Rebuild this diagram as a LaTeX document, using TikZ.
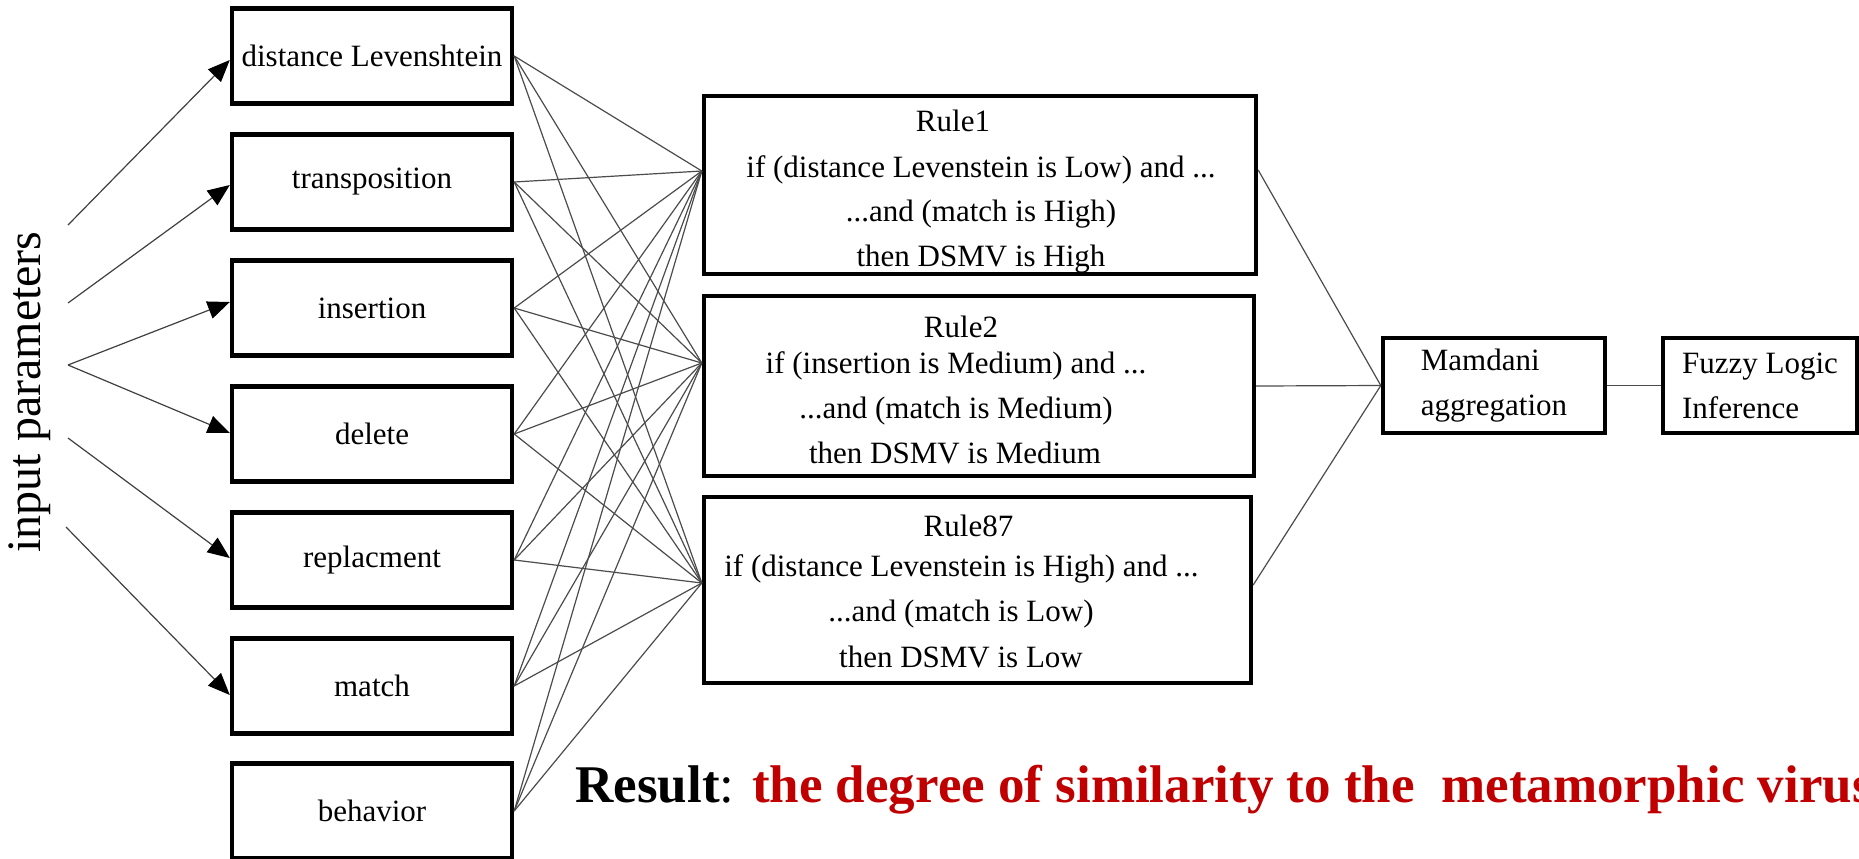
\documentclass[tikz,border=0pt]{standalone}
\usepackage{fontspec}
\setmainfont{Liberation Serif}
\usetikzlibrary{arrows.meta,calc}
\definecolor{resred}{RGB}{192,0,0}
\tikzset{
  inbox/.style={draw, line width=2.2pt, minimum width=140pt, minimum height=47.5pt, inner sep=0pt, font=\fontsize{15.5}{18}\selectfont},
  rulebox/.style={draw, line width=2.2pt, inner sep=0pt},
  rtext/.style={anchor=base, inner sep=0pt, font=\fontsize{15.5}{18}\selectfont},
  aggbox/.style={draw, line width=2.2pt, minimum height=47.5pt, inner sep=0pt, align=left, font=\fontsize{15.5}{22.5}\selectfont},
  link/.style={line width=0.6pt, draw=black!70},
  arr/.style={line width=0.6pt, draw=black!75, -{Triangle[length=11pt,width=9pt,fill=black,color=black]}},
}
\begin{document}
\begin{tikzpicture}[x=0.5pt,y=-0.5pt]
\useasboundingbox (0,0) rectangle (1859,858);
\clip (0,0) rectangle (1859,858);
\fill[white] (0,0) rectangle (1859,858);

% input boxes
\node[inbox] (b1) at (372,56) {distance Levenshtein};
\node[inbox] (b2) at (372,182) {transposition};
\node[inbox] (b3) at (372,308) {insertion};
\node[inbox] (b4) at (372,434) {delete};
\node[inbox] (b5) at (372,560) {replacment};
\node[inbox] (b6) at (372,686) {match};
\node[inbox] (b7) at (372,811) {behavior};

% side label
\node[rotate=90, inner sep=0pt, font=\fontsize{24}{28}\selectfont] (lab) at (30,392) {input parameters};

% arrow origins
\coordinate (p1) at (68,225);
\coordinate (p2) at (68,303);
\coordinate (p3) at (68,365);
\coordinate (p4) at (68,438);
\coordinate (p5) at (66,527);
\draw[arr] (p1) -- ($(b1.west)+(0,4)$);
\draw[arr] (p2) -- ($(b2.west)+(0,3)$);
\draw[arr] (p3) -- ($(b3.west)+(0,-6)$);
\draw[arr] (p3) -- ($(b4.west)+(0,-1)$);
\draw[arr] (p4) -- ($(b5.west)+(0,-2)$);
\draw[arr] (p5) -- ($(b6.west)+(0,9)$);

% rule boxes
\node[rulebox, minimum width=276pt, minimum height=89pt] (r1) at (980,185) {};
\node[rulebox, minimum width=275pt, minimum height=89.75pt] (r2) at (979,386) {};
\node[rulebox, minimum width=273.5pt, minimum height=93.25pt] (r3) at (977.5,590) {};

\node[rtext] (r1a) at (953,131) {Rule1};
\node[rtext] (r1b) at (981,177) {if (distance Levenstein is Low) and ...};
\node[rtext] (r1c) at (981,221) {...and (match is High)};
\node[rtext] (r1d) at (981,266) {then DSMV is High};

\node[rtext] (r2a) at (961,337) {Rule2};
\node[rtext] (r2b) at (956,373) {if (insertion is Medium) and ...};
\node[rtext] (r2c) at (956,418) {...and (match is Medium)};
\node[rtext] (r2d) at (955,463) {then DSMV is Medium};

\node[rtext] (r3a) at (968.5,536) {Rule87};
\node[rtext] (r3b) at (961.5,576) {if (distance Levenstein is High) and ...};
\node[rtext] (r3c) at (961,621) {...and (match is Low)};
\node[rtext] (r3d) at (961,667) {then DSMV is Low};

% convergence points
\coordinate (c1) at ($(r1.west)+(0,-14)$);
\coordinate (c2) at ($(r2.west)+(0,-23)$);
\coordinate (c3) at ($(r3.west)+(0,-7)$);

\foreach \i in {1,...,7}{
  \foreach \r in {1,2,3}{
    \draw[link] (b\i.east) -- (c\r);
  }
}

% aggregation
\node[aggbox, minimum width=111pt] (m) at (1494,385.5) {Mamdani\\aggregation};
\node[aggbox, minimum width=97pt] (f) at (1760,385.5) {Fuzzy Logic\\Inference};

\draw[link] ($(r1.east)+(0,-15)$) -- (m.west);
\draw[link] (r2.east) -- (m.west);
\draw[link] ($(r3.east)+(0,-5)$) -- (m.west);
\draw[link] (m.east) -- (f.west);

% result
\node[anchor=base west, inner sep=0pt, font=\fontsize{26.5}{30}\selectfont] (res) at (575,802)
  {\textbf{Result}: \textcolor{resred}{\textbf{the degree of similarity to the\ \ metamorphic virus}}};
\end{tikzpicture}
\end{document}
